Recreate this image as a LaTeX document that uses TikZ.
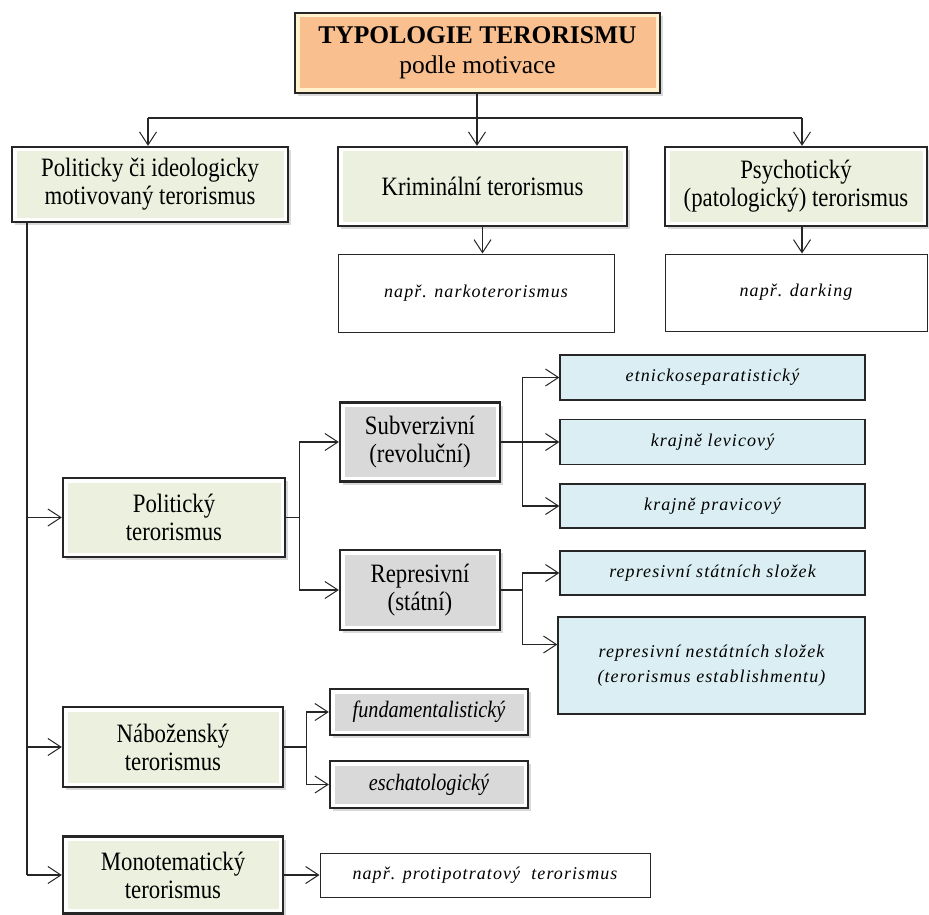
\documentclass[tikz,border=0pt]{standalone}
\usepackage{fontspec}
\setmainfont{Liberation Serif}
\newfontfamily\cond[FakeStretch=0.86]{Liberation Serif}
\newfontfamily\spit[LetterSpace=6]{Liberation Serif}
\usetikzlibrary{arrows.meta,shadows}
\definecolor{orfill}{HTML}{F9BF8F}
\definecolor{orband}{HTML}{FFF2CC}
\definecolor{grfill}{HTML}{EBF1DE}
\definecolor{gyfill}{HTML}{D9D9D9}
\definecolor{blfill}{HTML}{DAEEF3}
\definecolor{edge}{HTML}{262626}
\tikzset{
  sz/.style 2 args={minimum width=#1pt, minimum height=#2pt},
  framed/.style={draw=edge, line width=2.4pt, fill=white, inner sep=0pt, align=center,
    drop shadow={shadow xshift=2.5pt, shadow yshift=-3pt, opacity=0.3},
    path picture={\fill[#1] ([shift={(4.5pt,4.5pt)}]path picture bounding box.south west)
      rectangle ([shift={(-4.5pt,-4.5pt)}]path picture bounding box.north east);}},
  reg/.style={font=\cond\fontsize{26.5}{28}\selectfont},
  ital/.style={font=\spit\itshape\fontsize{18}{25}\selectfont},
  plainbox/.style={draw=edge, line width=1pt, fill=white, inner sep=0pt, align=center, ital},
  bluebox/.style={plainbox, fill=blfill, line width=1.3pt},
  conn/.style={line width=1.1pt, draw=edge},
  vtip/.tip={Straight Barb[length=13pt 0 0, width=17pt 0 0, line width=1pt]},
  arr/.style={conn, -vtip},
}
\begin{document}
\begin{tikzpicture}[x=1pt,y=-1pt]
\useasboundingbox (0,0) rectangle (929,915);
% top
\node[framed=orfill, sz={365}{80}, fill=orband, font=\fontsize{25.5}{30}\selectfont] (top) at (477.5,53)
  {\textbf{TYPOLOGIE TERORISMU}\\podle motivace};
% level 1
\node[framed=grfill, sz={276}{75}, reg] (polit1) at (150,184.5) {Politicky či ideologicky\\motivovaný terorismus};
\node[framed=grfill, sz={289}{79}, reg] (krim) at (482.5,186.5) {Kriminální terorismus};
\node[framed=grfill, sz={262}{79}, reg] (psych) at (796,186.5) {Psychotický\\(patologický) terorismus};
\node[plainbox, sz={276}{78}] (nark) at (476,293) {např. narkoterorismus};
\node[plainbox, sz={262}{77}] (dark) at (796,292.5) {např. darking};
% left column
\node[framed=grfill, sz={222}{79}, reg] (pol) at (174,517.5) {Politický\\terorismus};
\node[framed=grfill, sz={220}{80}, reg] (nab) at (173,747) {Náboženský\\terorismus};
\node[framed=grfill, sz={220}{77}, reg] (mono) at (173,875) {Monotematický\\terorismus};
% political subtypes
\node[framed=gyfill, sz={160}{79}, reg] (sub) at (420,442) {Subverzivní\\(revoluční)};
\node[framed=gyfill, sz={160}{80}, reg] (rep) at (420,590) {Represivní\\(státní)};
\node[bluebox, sz={305}{45}] (etn) at (712.5,377.5) {etnickoseparatistický};
\node[bluebox, sz={305}{45}] (lev) at (712.5,442) {krajně levicový};
\node[bluebox, sz={305}{44}] (prav) at (712.5,506) {krajně pravicový};
\node[bluebox, sz={305}{44}] (rstat) at (712.5,573) {represivní státních složek};
\node[bluebox, sz={307}{97}] (rnest) at (711.5,665.5) {represivní nestátních složek\\(terorismus establishmentu)};
% religious subtypes
\node[framed=gyfill, sz={198}{46}, font=\cond\itshape\fontsize{23.5}{24}\selectfont] (fund) at (429,712) {fundamentalistický};
\node[framed=gyfill, sz={198}{47}, font=\cond\itshape\fontsize{23.5}{24}\selectfont] (esch) at (429,784.5) {eschatologický};
% monothematic
\node[plainbox, sz={330}{44}] (prot) at (485,875) {např. protipotratový\ \ terorismus};
% connectors top
\coordinate (jm) at (477,118);
\coordinate (jl) at (148,118);
\coordinate (jr) at (802,118);
\draw[conn] (top.south -| jm) -- (jm);
\draw[conn] (jl) -- (jr);
\draw[arr] (jl) -- (jl |- polit1.north);
\draw[arr] (jm) -- (jm |- krim.north);
\draw[arr] (jr) -- (jr |- psych.north);
\draw[arr] (krim.south) -- (krim.south |- nark.north);
\draw[arr] (jr |- psych.south) -- (jr |- dark.north);
% spine
\coordinate (sp) at (27,0);
\draw[conn] (sp |- polit1.south) -- (sp |- mono.west);
\draw[arr] (sp |- pol.west) -- (pol.west);
\draw[arr] (sp |- nab.west) -- (nab.west);
\draw[arr] (sp |- mono.west) -- (mono.west);
% political
\draw[arr] (pol.east) -- ++(13,0) |- (sub.west);
\draw[arr] (pol.east) -- ++(13,0) |- (rep.west);
\draw[arr] (sub.east) -- ++(21,0) |- (etn.west);
\draw[arr] (sub.east) -- (lev.west);
\draw[arr] (sub.east) -- ++(21,0) |- (prav.west);
\draw[arr] (rep.east) -- ++(21,0) |- (rstat.west);
\draw[arr] (rep.east) -- ++(21,0) |- ([yshift=21pt]rnest.west);
% religious
\draw[arr] (nab.east) -- ++(22,0) |- (fund.west);
\draw[arr] (nab.east) -- ++(22,0) |- (esch.west);
\draw[arr] (mono.east) -- (prot.west);
\end{tikzpicture}
\end{document}
